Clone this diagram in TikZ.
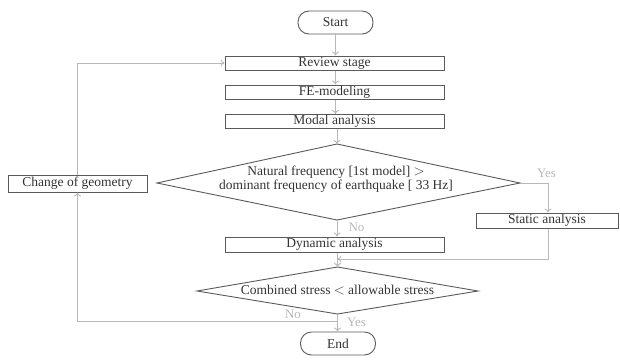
\documentclass[tikz,border=0pt]{standalone}
\usepackage{fontspec}
\setmainfont{Liberation Serif}
\usetikzlibrary{arrows.meta}
\definecolor{boxc}{HTML}{5A5A5A}
\definecolor{linec}{HTML}{B8B8B8}
\definecolor{txtc}{HTML}{333333}
\begin{document}
\begin{tikzpicture}[x=1pt,y=-1pt,
  every node/.style={text=txtc, font=\fontsize{13.5}{15}\selectfont},
  stepbox/.style={draw=boxc, line width=1pt, minimum width=219pt, minimum height=14pt, inner sep=0pt},
  termbox/.style={draw=boxc, line width=0.9pt, rounded corners=11pt, minimum width=75pt, minimum height=23pt, inner sep=0pt},
  conn/.style={draw=linec, line width=0.9pt},
  arr/.style={conn, -{To[length=4pt,width=7pt]}},
  lbl/.style={text=linec, font=\fontsize{13}{15}\selectfont, inner sep=0pt}]
\useasboundingbox (0,0) rectangle (620,359);

\node[termbox] (start) at (335.5,22.5) {Start};
\node[stepbox] (review) at (334.5,63) {Review stage};
\node[stepbox] (fe) at (334.5,92) {FE-modeling};
\node[stepbox] (modal) at (334.5,121.5) {Modal analysis};

% decision 1
\coordinate (d1t) at (337,144);
\coordinate (d1r) at (520,183);
\coordinate (d1b) at (337,220);
\coordinate (d1l) at (157,183);
\draw[draw=boxc, line width=0.9pt] (d1t) -- (d1r) -- (d1b) -- (d1l) -- cycle;
\node[align=center, inner sep=0pt] (d1txt) at (336,179) {Natural frequency [1st model] $>$\\[-1pt] dominant frequency of earthquake [ 33 Hz]};

\node[stepbox, minimum width=139pt, minimum height=17pt] (geom) at (77.5,183.5) {Change of geometry};
\node[stepbox, minimum width=142pt, minimum height=15pt] (static) at (547,220.5) {Static analysis};
\node[stepbox, minimum height=15pt] (dynamic) at (334.5,244.5) {Dynamic analysis};

% decision 2
\coordinate (d2t) at (337.5,267);
\coordinate (d2r) at (478,291);
\coordinate (d2b) at (337.5,314);
\coordinate (d2l) at (197,291);
\draw[draw=boxc, line width=0.9pt] (d2t) -- (d2r) -- (d2b) -- (d2l) -- cycle;
\node[inner sep=0pt] (d2txt) at (337.5,290) {Combined stress $<$ allowable stress};

\node[termbox] (end) at (338,343.5) {End};

% connectors
\draw[arr] (start.south) -- (start.south |- review.north);
\draw[arr] (review.south -| start.south) -- (start.south |- fe.north);
\draw[arr] (fe.south -| start.south) -- (start.south |- modal.north);
\draw[arr] (modal.south -| d1t) -- (d1t);

\coordinate (yescorner) at (548,183);
\draw[arr] (d1r) -- (yescorner) -- (yescorner |- static.north);
\node[lbl] (yes1) at (546.5,173) {Yes};

\draw[arr] (d1b) -- (d1b |- dynamic.north);
\node[lbl] (no1) at (356.5,227.5) {No};

\coordinate (bus) at (337.5,259);
\draw[arr] (yescorner |- static.south) -- (yescorner |- bus) -- (bus);
\draw[arr] (d2t |- dynamic.south) -- (d2t);

\draw[arr] (d2b) -- (d2b |- end.north);
\node[lbl] (yes2) at (356.5,322) {Yes};

\coordinate (nocorner) at (337.5,321);
\draw[arr] (nocorner) -- (geom.south |- nocorner) -- (geom.south);
\node[lbl] (no2) at (293,314) {No};

\draw[arr] (geom.north) -- (geom.north |- review.west) -- (review.west);
\end{tikzpicture}
\end{document}
